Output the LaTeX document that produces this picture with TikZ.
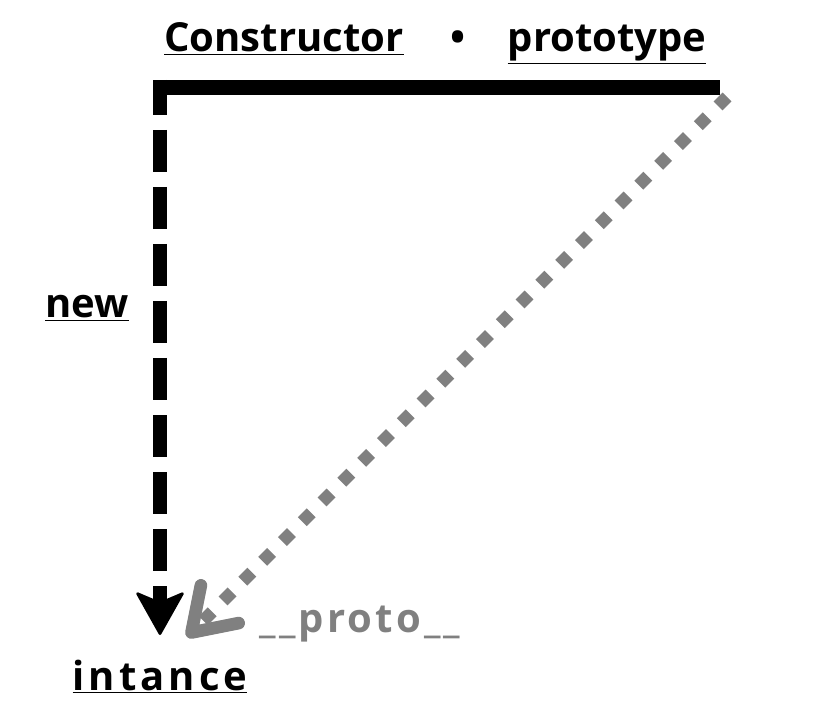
\documentclass[tikz,border=0pt]{standalone}
\usepackage{fontspec}
\setmainfont{Open Sans}
\usetikzlibrary{arrows.meta}
\definecolor{protogray}{RGB}{128,128,128}

\begin{document}
\begin{tikzpicture}[x=0.75pt,y=0.75pt,yscale=-1,xscale=1,
	lbl/.style={font=\bfseries\fontsize{30}{36}\selectfont,inner sep=0pt,anchor=base},
	ctorline/.style={line width=11pt},
	newline/.style={line width=10.5pt,dash pattern=on 31.5pt off 11.25pt,dash phase=5.25pt,-{Stealth[round,length=34pt,width=38pt,inset=8pt,line width=2pt]}},
	protoline/.style={protogray,line width=9.5pt,dash pattern=on 9.5pt off 11.5pt,-{Straight Barb[round,length=30pt,width=40pt]}}]
			\useasboundingbox (0,0) rectangle (820,712);
			
			% corner points of the lines
			\coordinate (ctorStart) at (153,87.5);
			\coordinate (ctorEnd) at (720,87.5);
			\coordinate (newStart) at (160,80);
			\coordinate (newTip) at (160,635);
			\coordinate (protoStart) at (727,97);
			\coordinate (protoTip) at (187,637);
			
			\draw[ctorline] (ctorStart) -- (ctorEnd);
			\draw[newline] (newStart) -- (newTip);
			\draw[protoline] (protoStart) -- (protoTip);
			
			% labels
			\node[lbl] (ctor) at (284,52) {\underline{Constructor}};
			\node[lbl] (dot) at (458,52) {•};
			\node[lbl] (proto) at (607,52) {\underline{prototype}};
			\node[lbl] (new) at (87,318) {\underline{new}};
			\node[lbl] (inst) at (160,690) {\addfontfeature{LetterSpace=10}\underline{intance}};
			\node[lbl,text=protogray] (dunder) at (360,632) {\addfontfeature{LetterSpace=8}\_\_proto\_\_};
\end{tikzpicture}
\end{document}
